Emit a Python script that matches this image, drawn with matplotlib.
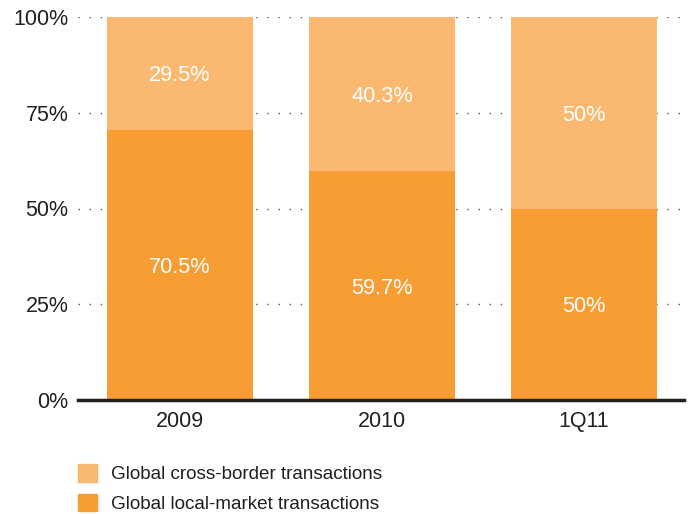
import matplotlib
matplotlib.use("Agg")
import matplotlib.pyplot as plt
from matplotlib.patches import Patch

categories = ["2009", "2010", "1Q11"]
local_market = [70.5, 59.7, 50]
cross_border = [29.5, 40.3, 50]
local_labels = ["70.5%", "59.7%", "50%"]
cross_labels = ["29.5%", "40.3%", "50%"]
yticks = [0, 25, 50, 75, 100]
ytick_labels = ["0%", "25%", "50%", "75%", "100%"]

plt.rcParams['font.family'] = ['Liberation Sans', 'DejaVu Sans']

c_dark = "#F79D34"
c_light = "#FBB870"
txt = "#231F20"

fig = plt.figure(figsize=(6.95, 5.14), dpi=100)
ax = fig.add_axes([78/695, 1-400/514, (684-78)/695, (400-17)/514])

x = list(range(len(categories)))
w = 0.723
ax.bar(x, local_market, width=w, color=c_dark, zorder=2)
ax.bar(x, cross_border, width=w, bottom=local_market, color=c_light, zorder=2)

for xi, lm, cb, ll, cl in zip(x, local_market, cross_border, local_labels, cross_labels):
    ax.text(xi, lm/2, ll, ha="center", va="center_baseline", color="white", fontsize=15.7, zorder=3)
    ax.text(xi, lm + cb/2, cl, ha="center", va="center_baseline", color="white", fontsize=15.7, zorder=3)

ax.set_xlim(-0.505, 2.495)
ax.set_ylim(0, 100)
ax.set_yticks(yticks)
ax.set_yticklabels(ytick_labels)
ax.set_xticks(x)
ax.set_xticklabels(categories)
ax.tick_params(axis="both", length=0, labelsize=15.5, colors=txt)
ax.tick_params(axis="y", pad=7)
ax.tick_params(axis="x", pad=8)
for s in ["top", "right", "left"]:
    ax.spines[s].set_visible(False)
ax.spines["bottom"].set_color(txt)
ax.spines["bottom"].set_linewidth(2.5)
ax.spines["bottom"].set_zorder(4)
ax.yaxis.grid(True, linestyle=(0, (1, 7)), color="#555555", linewidth=1.0, zorder=1)
ax.set_axisbelow(True)

handles = [Patch(color=c_light), Patch(color=c_dark)]
fig.legend(handles, ["Global cross-border transactions", "Global local-market transactions"],
           loc="upper left", bbox_to_anchor=(78/695, 1-464/514), frameon=False,
           borderpad=0, borderaxespad=0,
           fontsize=13.6, handlelength=1.0, handleheight=1.06, handletextpad=0.74,
           labelspacing=0.56, labelcolor=txt)

fig.savefig("out.png", dpi=100)
